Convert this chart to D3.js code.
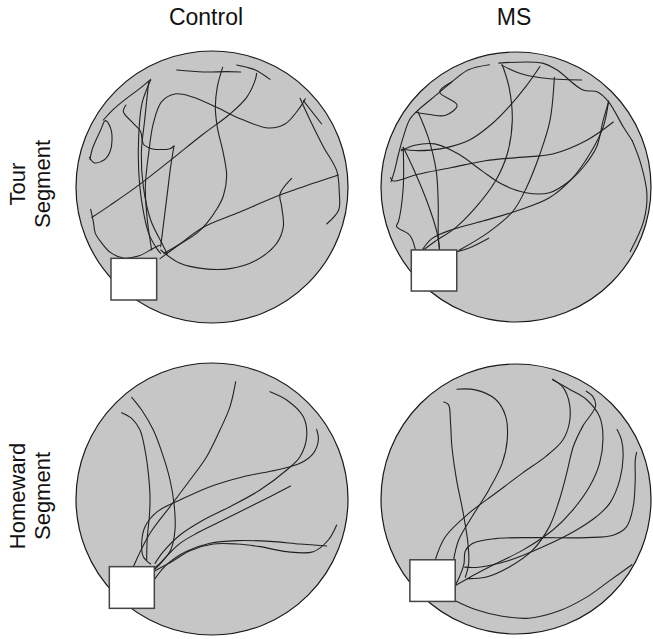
<!DOCTYPE html>
<html>
<head>
<meta charset="utf-8">
<script src="https://cdn.jsdelivr.net/npm/d3@7"></script>
<style>
  body { margin: 0; background: #fff; }
  svg { display: block; font-family: 'Liberation Sans', Arial, sans-serif; }
</style>
</head>
<body>
<div id="chart"></div>
<script>
// Column / row labels
const groups = ['Control', 'MS'];
const segments = [['Tour', 'Segment'], ['Homeward', 'Segment']];

// Arena geometry in tracking-camera pixels: [centerX, centerY, radius]
const arenaCam = [
    [426, 501, 408],   // Control, tour
    [441, 498, 401],   // MS, tour
    [426, 507, 408],   // Control, homeward
    [441, 507, 402]    // MS, homeward
];

// Home box in camera pixels: [x0, y0, x1, y1]
const homeCam = [
    [123, 715, 260, 840],
    [130, 685, 265, 807],
    [118, 710, 253, 835],
    [125, 688, 260, 812]
];

// Trajectories (camera pixels), one array per animal excursion
const controlTour = [
    [[100, 300], [130, 268], [170, 235], [210, 205], [242, 178]],
    [[60, 418], [66, 390], [78, 360], [92, 330], [106, 302], [122, 325], [126, 362], [120, 395], [102, 420], [72, 428], [58, 412]],
    [[168, 255], [160, 275], [185, 305], [212, 335], [220, 372], [245, 386], [300, 386], [312, 378]],
    [[66, 592], [120, 556], [200, 500], [300, 422], [400, 342], [480, 282], [530, 232], [555, 182], [560, 160]],
    [[62, 568], [70, 605], [76, 640], [96, 670], [122, 698], [160, 714], [205, 708], [245, 688], [268, 676]],
    [[270, 716], [330, 672], [400, 622], [500, 580], [630, 525], [700, 500], [805, 465]],
    [[690, 235], [720, 300], [760, 380], [800, 452], [808, 520], [806, 570], [770, 612]],
    [[700, 242], [755, 312]],
    [[245, 690], [232, 600], [226, 500], [236, 400], [250, 310], [275, 245], [315, 222], [365, 230], [440, 262], [515, 298], [595, 324], [645, 312], [690, 262], [706, 236]],
    [[242, 180], [216, 250], [206, 350], [206, 450], [216, 550], [236, 640], [262, 688], [272, 700]],
    [[236, 186], [224, 300], [214, 400], [220, 500], [242, 600], [280, 678], [292, 702]],
    [[458, 142], [442, 200], [436, 262], [442, 322], [460, 400], [470, 468], [460, 528], [440, 568], [410, 610], [380, 640], [330, 672], [282, 700]],
    [[272, 690], [330, 730], [400, 746], [480, 746], [560, 720], [620, 670], [640, 620], [635, 560], [630, 522], [665, 475]],
    [[312, 378], [302, 440], [292, 520], [282, 600], [272, 680]],
    [[320, 150], [400, 156], [470, 155], [512, 156]],
    [[500, 135], [530, 142], [556, 150], [600, 178]]
];

const msTour = [
    [[362, 135], [300, 150], [250, 186], [210, 220], [150, 270], [126, 296], [106, 350], [92, 400], [80, 450], [70, 482]],
    [[250, 186], [214, 216], [266, 255], [232, 285], [180, 282], [142, 276]],
    [[390, 130], [520, 130], [562, 150], [640, 210], [682, 215], [716, 245], [760, 320], [786, 360]],
    [[398, 136], [452, 160], [520, 174], [636, 180]],
    [[400, 135], [420, 200], [430, 300], [415, 400], [380, 480], [320, 560], [260, 620], [200, 660], [165, 686]],
    [[555, 172], [542, 300], [512, 400], [472, 500], [432, 570], [360, 632], [272, 686]],
    [[512, 140], [470, 200], [420, 260], [370, 310], [300, 360], [220, 384], [150, 390], [100, 386]],
    [[716, 245], [700, 300], [680, 380], [640, 440], [600, 480], [540, 515], [470, 515], [400, 490], [340, 450], [270, 400], [200, 370], [140, 374], [100, 390]],
    [[730, 305], [650, 360], [550, 400], [450, 410], [350, 420], [250, 440], [150, 460], [76, 480], [68, 470]],
    [[716, 242], [700, 320], [660, 400], [610, 470], [540, 530], [440, 570], [340, 600], [250, 625], [190, 652], [162, 686]],
    [[106, 380], [106, 500], [92, 600], [86, 615], [126, 642], [142, 684]],
    [[106, 380], [140, 452], [180, 550], [206, 632], [214, 684]],
    [[150, 275], [180, 350], [204, 450], [210, 550], [210, 640], [214, 686]],
    [[786, 360], [812, 430], [830, 520], [820, 600], [780, 690]],
    [[265, 690], [300, 680], [360, 650]]
];

const controlHome = [
    [[155, 248], [185, 265], [210, 300], [225, 360], [235, 430], [240, 500], [238, 560], [232, 620], [230, 690]],
    [[185, 202], [215, 240], [250, 300], [280, 380], [300, 450], [312, 520], [315, 600], [302, 660], [272, 700], [252, 720]],
    [[497, 155], [480, 230], [450, 300], [410, 380], [360, 450], [300, 530], [240, 610], [190, 710]],
    [[600, 185], [650, 210], [700, 260], [710, 320], [690, 380], [650, 420], [570, 480], [480, 530], [400, 570], [330, 615], [280, 665], [255, 700]],
    [[740, 298], [745, 330], [730, 370], [690, 400], [620, 420], [520, 440], [420, 470], [330, 510], [262, 545], [225, 590], [215, 640], [220, 680], [242, 702]],
    [[662, 468], [600, 500], [520, 540], [440, 580], [380, 610], [330, 640], [298, 670], [270, 700], [255, 712]],
    [[800, 585], [775, 630], [730, 665], [650, 665], [570, 650], [500, 642], [430, 642], [360, 662], [310, 692], [255, 722]],
    [[770, 648], [690, 642], [600, 634], [500, 632], [420, 640], [350, 664], [290, 704], [255, 746]]
];

const msHome = [
    [[226, 218], [240, 226], [246, 280], [250, 350], [264, 450], [284, 550], [298, 640], [300, 700], [290, 740]],
    [[265, 180], [320, 182], [380, 210], [410, 260], [415, 330], [400, 400], [360, 480], [310, 560], [270, 630], [255, 690]],
    [[550, 150], [582, 176], [600, 222], [600, 280], [580, 332], [530, 380], [460, 430], [380, 490], [300, 550], [230, 620], [200, 690]],
    [[550, 152], [600, 180], [650, 210], [690, 262], [700, 322], [690, 400], [660, 470], [610, 540], [550, 600], [460, 660], [380, 700], [300, 742], [262, 764]],
    [[650, 186], [670, 202], [678, 230], [640, 290], [612, 350], [592, 430], [570, 510], [540, 590], [490, 660], [420, 710], [350, 740], [296, 744]],
    [[742, 300], [755, 330], [760, 380], [750, 450], [720, 520], [680, 560], [620, 600], [520, 650], [420, 690], [330, 710], [288, 710]],
    [[800, 368], [796, 392], [796, 450], [790, 530], [770, 590], [730, 615], [650, 622], [500, 622], [380, 625], [310, 640], [290, 662], [286, 700], [272, 740], [260, 764]],
    [[786, 703], [720, 750], [650, 800], [570, 840], [480, 862], [400, 856], [320, 836], [260, 810]]
];

const trajectories = [controlTour, msTour, controlHome, msHome];

function createArenaFigure() {
    const width = 653, height = 639;

    const svg = d3.select('#chart')
        .append('svg')
        .attr('width', width)
        .attr('height', height);

    // Page placement of each arena: column / row centres and radius
    const colX = [212, 516];
    const rowY = [187, 499];
    const radius = [136, 135];

    const line = d3.line().curve(d3.curveCatmullRom.alpha(0.5));

    trajectories.forEach((paths, i) => {
        const col = i % 2, row = Math.floor(i / 2);
        const [cx, cy, cr] = arenaCam[i];
        const R = radius[col];

        const x = d3.scaleLinear().domain([cx - cr, cx + cr]).range([colX[col] - R, colX[col] + R]);
        const y = d3.scaleLinear().domain([cy - cr, cy + cr]).range([rowY[row] - R, rowY[row] + R]);

        const g = svg.append('g');

        // Arena
        g.append('circle')
            .attr('cx', x(cx))
            .attr('cy', y(cy))
            .attr('r', x(cx + cr) - x(cx))
            .attr('fill', '#c6c6c6')
            .attr('stroke', '#1a1a1a')
            .attr('stroke-width', 1.2);

        // Paths
        g.selectAll('path.traj')
            .data(paths)
            .join('path')
            .attr('class', 'traj')
            .attr('d', d => line(d.map(p => [x(p[0]), y(p[1])])))
            .attr('fill', 'none')
            .attr('stroke', '#222')
            .attr('stroke-width', 1.1)
            .attr('stroke-linejoin', 'round')
            .attr('stroke-linecap', 'round');

        // Home box
        const hb = homeCam[i];
        g.append('rect')
            .attr('x', x(hb[0]))
            .attr('y', y(hb[1]))
            .attr('width', x(hb[2]) - x(hb[0]))
            .attr('height', y(hb[3]) - y(hb[1]))
            .attr('fill', '#fff')
            .attr('stroke', '#444')
            .attr('stroke-width', 1.5);
    });

    // Column titles
    groups.forEach((name, i) => {
        svg.append('text')
            .attr('x', colX[i] - (i === 0 ? 6 : 2))
            .attr('y', 25)
            .attr('text-anchor', 'middle')
            .attr('font-size', '23px')
            .attr('fill', '#111')
            .text(name);
    });

    // Row labels (rotated, two lines)
    segments.forEach((lines, r) => {
        lines.forEach((txt, k) => {
            svg.append('text')
                .attr('transform', `translate(${25 + k * 25},${rowY[r] - 3}) rotate(-90)`)
                .attr('text-anchor', 'middle')
                .attr('font-size', '22px')
                .attr('fill', '#111')
                .text(txt);
        });
    });
}

document.addEventListener('DOMContentLoaded', createArenaFigure);
</script>
</body>
</html>
